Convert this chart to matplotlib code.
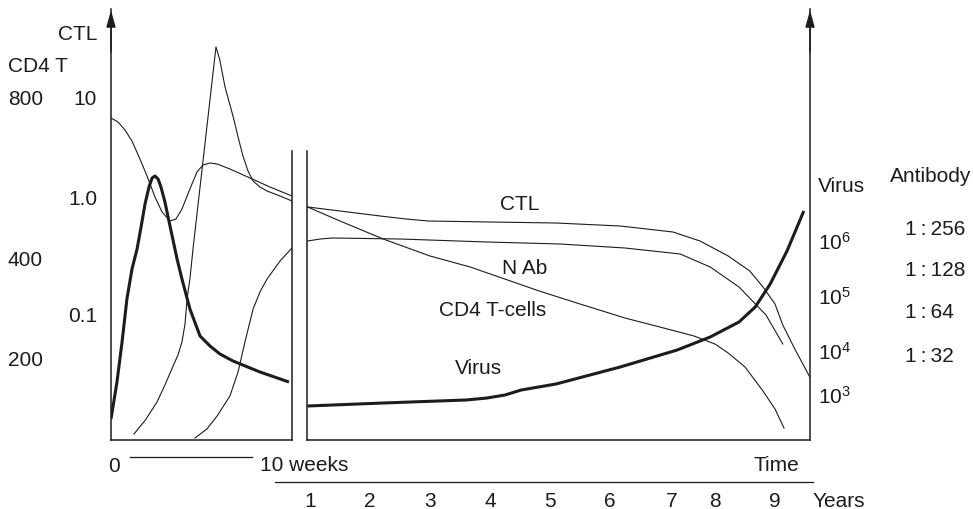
import matplotlib
matplotlib.use("Agg")
import matplotlib.pyplot as plt
from matplotlib.transforms import blended_transform_factory

W, H = 973, 510
INK = "#1c1c1c"
FS = 15

plt.rcParams["font.family"] = ["Liberation Sans", "DejaVu Sans"]
plt.rcParams["mathtext.fontset"] = "custom"
plt.rcParams["mathtext.rm"] = "Liberation Sans"

# first weeks (x = weeks, y = relative level, 0 = baseline)
cd4_w = [0, 0.39, 0.77, 1.16, 1.6, 1.99, 2.43, 2.82, 3.26, 3.59, 3.92, 4.36, 4.75, 5.08,
         5.47, 5.86, 6.57, 7.68, 8.78, 10]
cd4_l = [322, 318, 310, 299, 281, 264, 243, 228, 219, 221, 231, 251, 268, 275,
         277, 276, 271, 262, 253, 244]

ctl_w = [1.27, 1.9, 2.54, 2.98, 3.43, 3.7, 3.92, 4.09, 4.2, 4.36, 4.53, 5.8, 6.0, 6.3,
         6.74, 7.02, 7.29, 7.57, 7.85, 8.23, 8.62, 9.34, 10]
ctl_l = [6, 20, 38, 55, 74, 85, 98, 116, 141, 161, 191, 393, 381, 353,
         324, 303, 284, 269, 259, 253, 249, 244, 239]

nab_w = [4.64, 5.3, 5.86, 6.57, 7.02, 7.4, 7.85, 8.23, 8.62, 9.34, 10]
nab_l = [2, 11, 24, 44, 68, 98, 131, 148, 161, 179, 192]

vir_w = [0, 0.33, 0.61, 0.88, 1.16, 1.44, 1.66, 1.88, 2.1, 2.27, 2.43, 2.6, 2.76, 2.98,
         3.26, 3.65, 3.92, 4.36, 4.92, 5.47, 6.02, 6.74, 8.23, 9.83]
vir_l = [21, 58, 98, 141, 171, 191, 213, 236, 253, 262, 264, 261, 253, 238,
         214, 181, 161, 131, 104, 94, 86, 79, 68, 58]

# years (x = years, same relative level)
ctl_y = [0.96, 1.5, 2.17, 2.6, 2.97, 4.0, 5.1, 6.17, 7.05, 7.5, 7.97, 8.33, 8.55, 8.75,
         8.88, 9.08, 9.33]
ctl_yl = [233, 229, 224, 221, 219, 218, 217, 214, 208, 199, 184, 169, 153, 136,
          115, 91, 63]

nab_y = [0.96, 1.17, 1.37, 2.5, 3.95, 5.17, 6.25, 7.17, 7.67, 8.15, 8.6, 8.88]
nab_yl = [199, 201, 202, 201, 198, 196, 192, 186, 173, 153, 125, 96]

cd4_y = [0.96, 1.5, 2.22, 3.0, 3.67, 4.82, 5.5, 6.25, 6.83, 7.4, 7.75, 7.97, 8.25, 8.55,
         8.75, 8.9]
cd4_yl = [233, 219, 201, 184, 173, 149, 136, 122, 113, 104, 96, 87, 73, 49, 31, 12]

vir_y = [0.96, 2.22, 3.6, 3.95, 4.25, 4.52, 5.1, 6.17, 7.12, 7.67, 8.15, 8.42, 8.67, 8.95, 9.23]
vir_yl = [34, 37, 40, 42, 45, 50, 56, 73, 90, 103, 118, 133, 156, 189, 229]

# axis labels
ctl_ticks = [341, 241, 124]
ctl_tick_labels = ["10", "1.0", "0.1"]
cd4_ticks = [341, 181, 81]
cd4_tick_labels = ["800", "400", "200"]
virus_ticks = [198, 143, 88, 44]
virus_tick_labels = [r"$\mathregular{10^6}$", r"$\mathregular{10^5}$",
                     r"$\mathregular{10^4}$", r"$\mathregular{10^3}$"]
ab_ticks = [211, 171, 129, 85]
ab_tick_labels = ["1\u2009:\u2009256", "1\u2009:\u2009128", "1\u2009:\u200964", "1\u2009:\u200932"]
year_pos = [1, 2, 3, 4, 5, 6, 7.02, 7.75, 8.75]
year_labels = ["1", "2", "3", "4", "5", "6", "7", "8", "9"]

curve_names = ["CTL", "N Ab", "CD4 T-cells", "Virus"]
curve_name_pos = [(4.5, 236), (4.57, 173), (4.05, 131), (3.8, 72)]

TOP = 431      # arrow tip level
PANEL_TOP = 289


def fx(px):
    return px / W


def fy(py):
    return 1 - py / H


fig = plt.figure(figsize=(W / 100, H / 100), dpi=100)
ax_l = fig.add_axes([fx(111), fy(441), fx(292) - fx(111), fy(10) - fy(441)])
ax_r = fig.add_axes([fx(307), fy(441), fx(810) - fx(307), fy(10) - fy(441)])

ax_l.set_xlim(0, 10)
ax_r.set_xlim(0.95, 1 + (810 - 310) / 60)
for ax in (ax_l, ax_r):
    ax.set_ylim(0, TOP)
    ax.set_xticks([])
    ax.set_yticks([])
    ax.patch.set_visible(False)
    ax.spines["top"].set_visible(False)
    for s in ax.spines.values():
        s.set_color(INK)
        s.set_linewidth(1.1)
ax_l.spines["right"].set_bounds(0, PANEL_TOP)
ax_r.spines["left"].set_bounds(0, PANEL_TOP)

thin = dict(color=INK, lw=0.8, solid_joinstyle="round")
thick = dict(color=INK, lw=2.2, solid_capstyle="butt", solid_joinstyle="round")

ax_l.plot(cd4_w, cd4_l, **thin)
ax_l.plot(ctl_w, ctl_l, **thin)
ax_l.plot(nab_w, nab_l, **thin)
ax_l.plot(vir_w, vir_l, **thick)

ax_r.plot(ctl_y, ctl_yl, **thin)
ax_r.plot(nab_y, nab_yl, **thin)
ax_r.plot(cd4_y, cd4_yl, **thin)
ax_r.plot(vir_y, vir_yl, **thick)

for name, (x, y) in zip(curve_names, curve_name_pos):
    ax_r.text(x, y, name, fontsize=FS, ha="center", va="center", color=INK)

# arrow heads
arrow = dict(arrowstyle="-|>,head_length=1.0,head_width=0.28", color=INK, lw=1.1,
             mutation_scale=10, shrinkA=0, shrinkB=0)
ax_l.annotate("", xy=(0, 0.997), xytext=(0, 0.9), xycoords="axes fraction", arrowprops=arrow)
ax_r.annotate("", xy=(1, 0.997), xytext=(1, 0.9), xycoords="axes fraction", arrowprops=arrow)

# left scales
tl = blended_transform_factory(fig.transFigure, ax_l.transData)
for v, lab in zip(ctl_ticks, ctl_tick_labels):
    fig.text(fx(97), v, lab, transform=tl, fontsize=FS, ha="right", va="center", color=INK)
for v, lab in zip(cd4_ticks, cd4_tick_labels):
    fig.text(fx(8), v, lab, transform=tl, fontsize=FS, ha="left", va="center", color=INK)
fig.text(fx(97), fy(35), "CTL", fontsize=FS, ha="right", va="center", color=INK)
fig.text(fx(8), fy(66), "CD4 T", fontsize=FS, ha="left", va="center", color=INK)

# right scales
tr = blended_transform_factory(fig.transFigure, ax_r.transData)
for v, lab in zip(virus_ticks, virus_tick_labels):
    fig.text(fx(818), v, lab, transform=tr, fontsize=FS, ha="left", va="center", color=INK)
for v, lab in zip(ab_ticks, ab_tick_labels):
    fig.text(fx(905), v, lab, transform=tr, fontsize=FS, ha="left", va="center", color=INK)
fig.text(fx(818), fy(186), "Virus", fontsize=FS, ha="left", va="center", color=INK)
fig.text(fx(890), fy(176), "Antibody", fontsize=FS, ha="left", va="center", color=INK)

# time scales under the panels
fig.text(fx(114), fy(467), "0", fontsize=FS, ha="center", va="center", color=INK)
fig.text(fx(260), fy(466), "10 weeks", fontsize=FS, ha="left", va="center", color=INK)
fig.text(fx(776), fy(466), "Time", fontsize=FS, ha="center", va="center", color=INK)
fig.add_artist(plt.Line2D([fx(130), fx(252)], [fy(458), fy(458)], color=INK, lw=0.9))
fig.add_artist(plt.Line2D([fx(275), fx(813)], [fy(483), fy(483)], color=INK, lw=0.9))

ty = blended_transform_factory(ax_r.transData, fig.transFigure)
for p, lab in zip(year_pos, year_labels):
    fig.text(p, fy(502), lab, transform=ty, fontsize=FS, ha="center", va="center", color=INK)
fig.text(fx(813), fy(502), "Years", fontsize=FS, ha="left", va="center", color=INK)

fig.savefig("out.png", dpi=100, facecolor="white")
